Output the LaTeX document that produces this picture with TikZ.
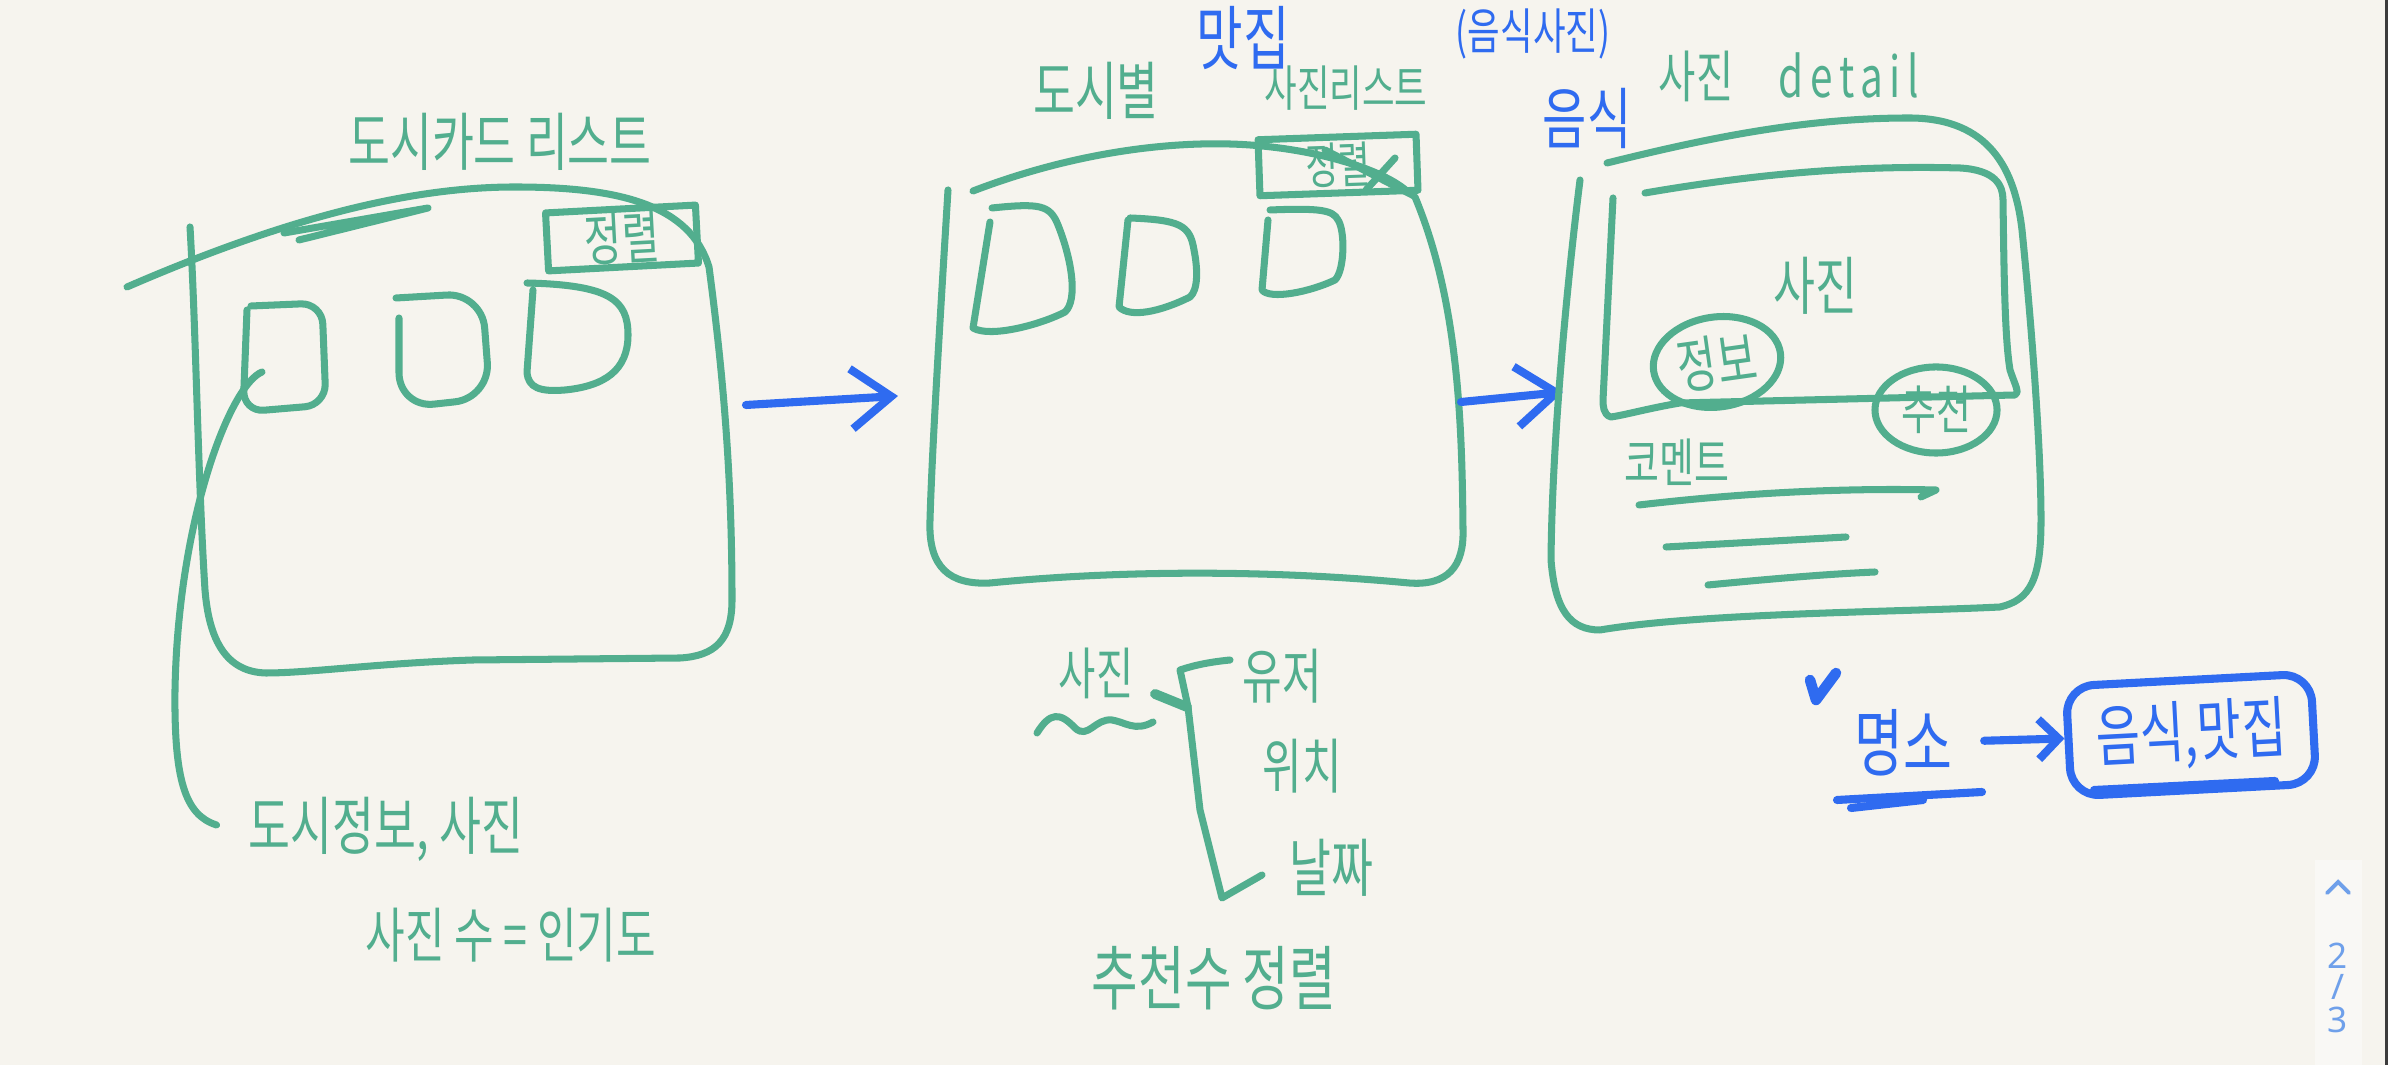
\documentclass[tikz,border=0pt]{standalone}
\usepackage{fontspec}
\usetikzlibrary{arrows.meta,shapes.geometric}
\newfontfamily\handfont[FakeStretch=0.72]{Noto Sans CJK KR}
\newfontfamily\pagefont{Noto Sans}
\definecolor{paper}{HTML}{F6F4EE}
\definecolor{ink-green}{HTML}{52AE8E}
\definecolor{ink-blue}{HTML}{2F6BF0}
\definecolor{page-blue}{HTML}{6FA0EA}
\definecolor{strip}{HTML}{F9F8F5}
\definecolor{frame-edge}{HTML}{3C3C3C}

\begin{document}
\begin{tikzpicture}[x=0.01cm, y=-0.01cm,
  txt/.style={font=\handfont\fontsize{#1}{#1}\selectfont, text=ink-green, inner sep=1pt},
  txt/.default=18,
  btxt/.style={txt=#1, text=ink-blue},
  btxt/.default=18,
  pen/.style={draw=ink-green, line width=2pt, line cap=round, line join=round},
  bluepen/.style={draw=ink-blue, line width=2.3pt, line cap=round, line join=round},
  pagetxt/.style={font=\pagefont\fontsize{10}{10}\selectfont, text=page-blue, inner sep=0pt},
  >={Straight Barb[length=4mm, width=6mm]}]
  \fill[paper] (0,0) rectangle (2388,1065);
  \useasboundingbox (0,0) rectangle (2388,1065);
  \fill[strip] (2315,860) rectangle (2362,1065);
  \fill[frame-edge] (2385,0) rectangle (2388,1065);

  \node[txt] (listtitle) at (500,142) {도시카드 리스트};
  \draw[pen] (127,287) .. controls (300,212) and (420,187) .. (515,187) .. controls (620,187) and (690,205) .. (709,267) .. controls (724,380) and (732,480) .. (732,600) .. controls (732,640) and (715,656) .. (680,658) -- (473,660) .. controls (380,663) and (310,673) .. (266,673) .. controls (226,672) and (209,640) .. (205,590) .. controls (198,480) and (196,330) .. (190,227);
  \draw[pen] (284,233) -- (428,208) -- (299,240);
  \node[pen, txt=16, rotate=3, minimum width=1.5cm, minimum height=0.58cm] (sortcity) at (622,238) {정렬};
  \draw[pen, rounded corners=6pt] (251,306) -- (322,303) -- (326,405) -- (243,412) -- (247,310);
  \draw[pen, rounded corners=10pt] (396,298) -- (482,293) -- (490,398) -- (399,408) -- (399,318);
  \draw[pen] (533,290) -- (527,372) .. controls (528,388) and (540,392) .. (565,390) .. controls (605,386) and (628,370) .. (628,335) .. controls (628,300) and (610,285) .. (527,283);
  \coordinate (thumbpin) at (262,372);
  \node[txt] (cityinfo) at (386,829) {도시정보, 사진};
  \draw[pen] (thumbpin) .. controls (230,385) and (178,520) .. (175,690) .. controls (174,780) and (185,815) .. ([xshift=-0.28cm, yshift=0.04cm]cityinfo.west);
  \node[txt=17] (popularity) at (511,935) {사진 수 = 인기도};

  \coordinate (listout) at (746,405);
  \coordinate (photosin) at (898,396);
  \draw[bluepen, ->] (listout) -- (photosin);

  \node[txt] (bycity) at (1096,91) {도시별};
  \node[txt=14] (photolist) at (1346,88) {사진리스트};
  \node[btxt=20] (foodspot) at (1243,38) {맛집};
  \node[btxt=14] (foodphoto) at (1533,34) {(음식사진)};
  \draw[pen] (948,190) .. controls (940,320) and (932,450) .. (930,520) .. controls (928,568) and (950,585) .. (990,583) .. controls (1100,572) and (1250,568) .. (1409,583) .. controls (1448,586) and (1464,566) .. (1463,530) .. controls (1462,420) and (1458,300) .. (1415,197);
  \draw[pen] (973,191) .. controls (1080,150) and (1180,140) .. (1250,145) .. controls (1320,150) and (1385,170) .. (1409,193);
  \node[pen, txt=14, rotate=2, minimum width=1.58cm, minimum height=0.56cm] (sortphoto) at (1338,165) {정렬};
  \draw[pen] (1325,150) -- (1414,196);
  \draw[pen] (1395,158) -- (1366,190);
  \draw[pen] (990,222) -- (973,328) .. controls (990,338) and (1040,325) .. (1065,312) .. controls (1078,300) and (1072,260) .. (1058,225) .. controls (1050,205) and (1040,203) .. (992,208);
  \draw[pen] (1128,220) -- (1119,307) .. controls (1130,318) and (1160,312) .. (1190,297) .. controls (1198,290) and (1198,270) .. (1194,250) .. controls (1190,225) and (1180,220) .. (1130,218);
  \draw[pen] (1268,220) -- (1262,290) .. controls (1270,300) and (1310,292) .. (1335,280) .. controls (1345,270) and (1345,230) .. (1338,220) .. controls (1333,210) and (1320,208) .. (1270,210);

  \coordinate (photosout) at (1461,402);
  \coordinate (detailin) at (1563,392);
  \draw[bluepen, ->] (photosout) -- (detailin);

  \node[btxt=19] (foodtitle) at (1587,118) {음식};
  \node[txt=16] (detailtitle) at (1789,76) {사진\hspace{0.45cm}{\addfontfeatures{LetterSpace=12}detail}};
  \draw[pen] (1607,163) .. controls (1700,140) and (1800,118) .. (1909,118) .. controls (1990,118) and (2015,170) .. (2022,230) .. controls (2032,330) and (2041,450) .. (2041,520) .. controls (2041,580) and (2030,600) .. (2000,607) .. controls (1900,612) and (1700,613) .. (1600,630) .. controls (1570,630) and (1555,610) .. (1551,560) .. controls (1552,450) and (1565,300) .. (1580,180);
  \draw[pen] (1645,193) .. controls (1750,175) and (1850,165) .. (1960,168) .. controls (1995,170) and (2003,185) .. (2003,200) .. controls (2004,280) and (2005,340) .. (2010,370) .. controls (2015,385) and (2020,393) .. (2015,395) -- (1680,403) .. controls (1650,408) and (1625,415) .. (1611,417) .. controls (1603,415) and (1603,405) .. (1603,400) -- (1613,198);
  \node[txt] (detailphoto) at (1815,286) {사진};
  \node[pen, ellipse, txt=17, rotate=8, minimum width=1.28cm, minimum height=0.9cm] (infobubble) at (1717,362) {정보};
  \node[pen, ellipse, txt=15, minimum width=1.22cm, minimum height=0.86cm] (recbubble) at (1936,410) {추천};
  \node[txt=15] (comment) at (1677,462) {코멘트};
  \draw[pen] (1639,505) .. controls (1750,492) and (1850,488) .. (1936,490) -- (1921,497);
  \draw[pen] (1666,547) -- (1846,537);
  \draw[pen] (1708,585) .. controls (1780,578) and (1830,574) .. (1875,572);

  \node[txt=16] (photokey) at (1096,673) {사진};
  \draw[pen] (1037,733) .. controls (1050,712) and (1060,712) .. (1075,728) .. controls (1088,740) and (1095,718) .. (1112,720) .. controls (1125,722) and (1135,732) .. (1153,722);
  \draw[pen, line width=2.8pt] (1155,694) -- (1187,707);
  \draw[pen] (1230,660) .. controls (1210,662) and (1195,665) .. (1180,670) -- (1188,707) -- (1200,810) -- (1222,898) -- (1262,875);
  \node[txt=17] (user) at (1282,676) {유저};
  \node[txt=17] (location) at (1302,766) {위치};
  \node[txt=18] (date) at (1331,868) {날짜};
  \node[txt=20] (recsort) at (1214,978) {추천수 정렬};

  \draw[bluepen, line width=3pt] (1810,680) -- (1816,700) -- (1836,673);
  \node[btxt=21] (landmark) at (1903,743) {명소};
  \draw[bluepen] (1837,800) -- (1982,792);
  \draw[bluepen] (1851,808) -- (1923,800);
  \node[bluepen, btxt=19, rotate=3, rounded corners=8pt, minimum width=2.45cm, minimum height=1.1cm] (foodbox) at (2191,735) {음식,맛집};
  \draw[bluepen] (2094,790) -- (2275,781);
  \draw[bluepen, -{Straight Barb[length=2mm, width=4mm]}, shorten <=0.28cm] (landmark) -- (foodbox);

  \draw[page-blue, line width=1.1pt, line cap=round] (2327,893) -- (2338,882) -- (2349,893);
  \node[pagetxt] (pagecur) at (2338,956) {2};
  \node[pagetxt] (pagesep) at (2338,987) {/};
  \node[pagetxt] (pagetotal) at (2338,1020) {3};
\end{tikzpicture}
\end{document}
